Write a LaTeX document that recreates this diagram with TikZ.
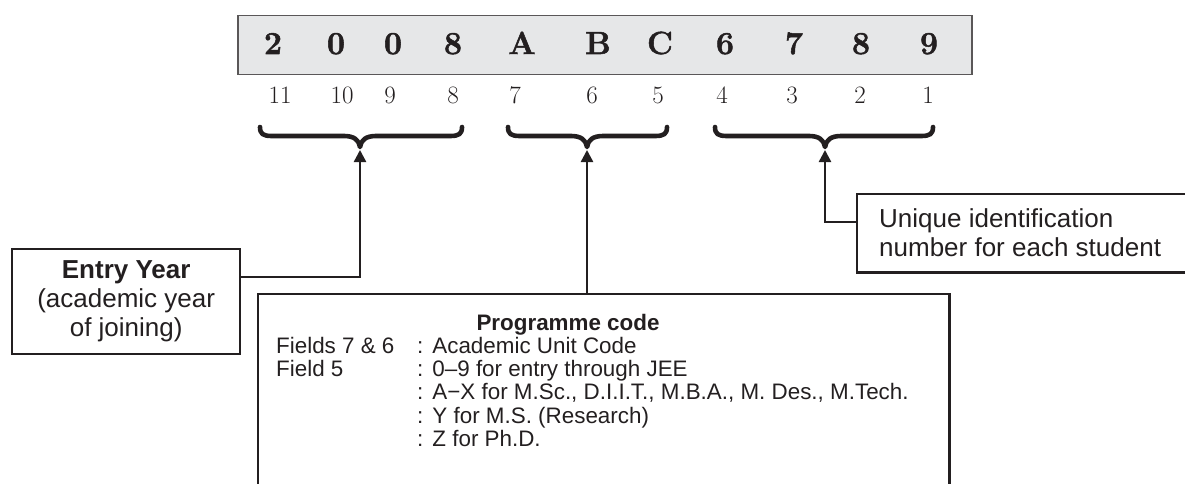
\documentclass[tikz,border=0pt]{standalone}
\usepackage{fontspec}
\setsansfont{Liberation Sans}
\newfontfamily\codefont{Latin Modern Roman}[BoldFeatures={FakeBold=1.6}]
\usetikzlibrary{arrows.meta,calc}
\definecolor{ink}{HTML}{231F20}
\definecolor{codebg}{HTML}{E6E7E8}
\tikzset{
  codechar/.style={font=\fontsize{32}{32}\selectfont\codefont\bfseries, text=ink, inner sep=0pt},
  idx/.style={font=\fontsize{25}{25}\selectfont\rmfamily, text=ink, inner sep=0pt},
  bracepath/.style={draw=ink, line width=4.6pt, line cap=round, line join=round},
  conn/.style={draw=ink, line width=2.4pt, -{Triangle[length=12pt,width=12pt]}},
  frame/.style={draw=ink, line width=2.4pt},
  lbl/.style={font=\fontsize{26}{29}\selectfont\sffamily, text=ink, inner sep=0pt, align=center},
  progtext/.style={font=\fontsize{22.4}{23.4}\selectfont\sffamily, text=ink, inner sep=0pt},
}
\newcommand\mybrace[3]{%
  \draw[bracepath] (#1,127) .. controls (#1,134) and (#1+3,136) .. (#1+12,136)
    -- (#2-16,136) .. controls (#2-6,136) and (#2-1,140) .. (#2,147)
    .. controls (#2+1,140) and (#2+6,136) .. (#2+16,136)
    -- (#3-12,136) .. controls (#3-3,136) and (#3,134) .. (#3,127);}
\begin{document}
\begin{tikzpicture}[x=1pt,y=-1pt]
\useasboundingbox (0,0) rectangle (1185,484);
% code strip
\node[draw=ink!75, fill=codebg, line width=1.5pt, minimum width=734pt, minimum height=59pt,
      inner sep=0pt, anchor=north west] (codebox) at (237,15) {};
\foreach \c/\x [count=\i] in {2/273,0/336,0/393,8/453,A/522,B/598,C/660,6/725,7/794,8/861,9/929}
  \node[codechar, anchor=base] (d\i) at (\x,54) {\c};
\foreach \n/\x [count=\i] in {11/280,10/342,9/390,8/453,7/515,6/592,5/658,4/722,3/792,2/860,1/928}
  \node[idx, anchor=base] (i\i) at (\x,103) {\n};
% braces
\mybrace{260}{360}{462}
\mybrace{508}{587}{667}
\mybrace{715}{825}{933}
\coordinate (tip1) at (360,150);
\coordinate (tip2) at (587,150);
\coordinate (tip3) at (825,150);
% entry year
\node[frame, lbl, minimum width=228pt, minimum height=105pt, anchor=north west] (entry) at (11,248)
  {\textbf{Entry Year}\\(academic year\\of joining)};
\draw[conn] ($(entry.north east)+(0,29)$) -| (tip1);
% programme code
\node[minimum width=691pt, minimum height=190pt, anchor=north west, inner sep=0pt] (prog) at (258,294) {};
\draw[frame] (prog.south west) |- (prog.north east) -- (prog.south east);
\draw[conn] (tip2 |- prog.north) -- (tip2);
\node[progtext, anchor=base] (progtitle) at (568,330) {\bfseries Programme code};
\node[progtext, anchor=base west] (progtable) at (276,353) {%
  \begin{tabular}[t]{@{}p{141pt}@{}l@{}}
  Fields 7 \& 6 & :\hspace{9pt}Academic Unit Code\\
  Field 5 & :\hspace{9pt}0–9 for entry through JEE\\
   & :\hspace{9pt}A−X for M.Sc., D.I.I.T., M.B.A., M. Des., M.Tech.\\
   & :\hspace{9pt}Y for M.S. (Research)\\
   & :\hspace{9pt}Z for Ph.D.
  \end{tabular}};
% unique id
\node[minimum width=328pt, minimum height=78pt, anchor=north west, inner sep=0pt] (unique) at (857,194) {};
\draw[frame] (unique.north east) -- (unique.north west) -- (unique.south west) -- (unique.south east);
\node[lbl, align=left, anchor=west] (uniquetxt) at (879,233) {Unique identification\\number for each student};
\draw[conn] ($(unique.north west)+(0,28)$) -| (tip3);
\end{tikzpicture}
\end{document}
